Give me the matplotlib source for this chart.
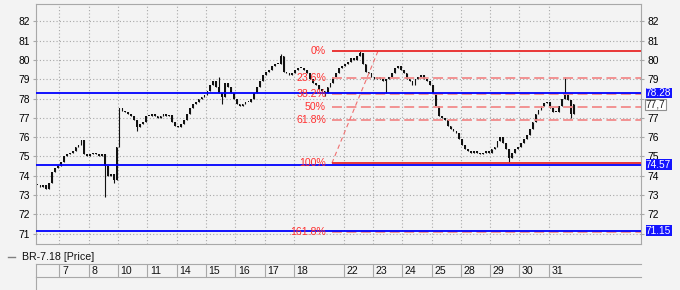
import matplotlib
matplotlib.use("Agg")
import matplotlib.pyplot as plt
import numpy as np
from matplotlib.lines import Line2D

plt.rcParams["font.family"] = ["Liberation Sans", "DejaVu Sans"]

# sessions on the time axis (first one is partial and unlabelled)
day_labels = ["", "7", "8", "10", "11", "14", "15", "16", "17", "18",
              "22", "23", "24", "25", "28", "29", "30", "31"]

# closing price of every bar, grouped by session
closes_by_day = [
    [73.5, 73.4, 73.5, 73.3, 73.6, 74.2, 74.4, 74.5],
    [74.7, 75.0, 75.1, 75.2, 75.3, 75.5, 75.6, 75.85, 75.1, 75.0],
    [75.1, 75.2, 75.1, 75.0, 75.1, 74.5, 74.0, 74.1, 73.8, 75.5],
    [77.5, 77.35, 77.3, 77.2, 77.1, 76.9, 76.5, 76.7, 76.8, 77.1],
    [77.1, 77.2, 77.1, 77.0, 77.1, 77.2, 77.1, 77.15, 76.8, 76.6],
    [76.5, 76.7, 76.9, 77.2, 77.5, 77.7, 77.8, 78.0, 78.1, 78.2],
    [78.4, 78.7, 78.9, 78.6, 78.3, 78.1, 78.8, 78.6, 78.3, 78.0],
    [77.7, 77.6, 77.7, 77.8, 77.8, 78.0, 78.3, 78.6, 78.9, 79.2],
    [79.4, 79.5, 79.7, 79.8, 79.8, 80.2, 79.4, 79.3, 79.2, 79.3],
    [79.5, 79.6, 79.6, 79.5, 79.3, 79.0, 78.8, 78.7, 78.5, 78.4, 78.3,
     78.6, 78.8, 79.1, 79.3, 79.6, 79.7],
    [79.8, 79.9, 80.1, 80.0, 80.2, 80.35, 79.8, 79.4, 79.3, 79.1],
    [79.0, 79.1, 79.0, 78.9, 79.0, 79.1, 79.3, 79.6, 79.7, 79.5],
    [79.3, 79.0, 78.9, 78.7, 79.0, 79.1, 79.2, 79.0, 78.9, 78.7],
    [78.3, 77.6, 77.1, 77.0, 76.9, 76.6, 76.4, 76.3, 76.2, 75.9],
    [75.6, 75.4, 75.3, 75.2, 75.3, 75.2, 75.1, 75.2, 75.3, 75.2],
    [75.4, 75.5, 75.8, 76.0, 75.7, 75.4, 74.9, 75.2, 75.4, 75.5],
    [75.7, 75.9, 76.1, 76.4, 76.8, 77.2, 77.4, 77.6, 77.75, 77.8],
    [77.5, 77.3, 77.3, 77.6, 78.0, 78.3, 77.9, 77.2, 77.7],
]

# long wicks (bar index -> price)
wick_high = {62: 79.1, 83: 80.3, 110: 80.45, 180: 79.1}
wick_low = {23: 72.9, 26: 73.6, 34: 76.3, 63: 77.7, 98: 78.15,
            119: 78.3, 161: 74.7, 182: 77.0}

blue_levels = [78.28, 74.57, 71.15]
last_price = "77,7"
last_value = 77.7

# fibonacci tool
fib_high, fib_low = 80.45, 74.65
fib_ratios = [0.0, 0.236, 0.382, 0.5, 0.618, 1.0, 1.618]
fib_labels = ["0%", "23.6%", "38.2%", "50%", "61.8%", "100%", "161.8%"]
fib_start_bar, fib_end_bar = 100.5, 116.2

y_ticks = list(range(71, 83))
hidden_right = [78, 71]  # covered by the level boxes

BG = "#f3f3f3"
GRID = "#a8a8a8"
W, H = 680, 290

closes = np.concatenate([np.array(d) for d in closes_by_day])
counts = [len(d) for d in closes_by_day]
bounds = np.cumsum([0] + counts[:-1]) - 0.5
x = np.arange(len(closes))
opens = np.r_[closes[0], closes[:-1]]
highs = np.maximum(opens, closes)
lows = np.minimum(opens, closes)
for i, v in wick_high.items():
    highs[i] = v
for i, v in wick_low.items():
    lows[i] = v

fig = plt.figure(figsize=(W / 100, H / 100), dpi=100, facecolor=BG)
ax = fig.add_axes([36 / W, 1 - 244 / H, 605 / W, 240 / H], facecolor=BG)

ax.vlines(x, lows, highs, color="#111111", lw=0.8, zorder=2)
ax.bar(x, np.maximum(np.abs(closes - opens), 0.05), bottom=np.minimum(opens, closes),
       width=0.6, color="#111111", lw=0, zorder=2)

for v in blue_levels:
    ax.axhline(v, color="#0000ff", lw=1.3, zorder=4)
    ax.text(1.0083, v, f"{v:.2f}", transform=ax.get_yaxis_transform(), ha="left",
            va="center", color="white", fontsize=7.3,
            bbox=dict(boxstyle="square,pad=0.03", fc="#1414ff", ec="none"), zorder=6)
ax.text(1.0083, last_value, last_price, transform=ax.get_yaxis_transform(), ha="left",
        va="center", color="#222222", fontsize=7.3,
        bbox=dict(boxstyle="square,pad=0.06", fc="white", ec="#909090", lw=0.8), zorder=6)

xmax = 206.0
span = fib_high - fib_low
for r, lab in zip(fib_ratios, fib_labels):
    lvl = fib_high - r * span
    if r in (0.0, 1.0):
        ax.hlines(lvl, fib_start_bar, xmax, color="#e82828", lw=1.3, zorder=5)
    else:
        ax.hlines(lvl, fib_start_bar, xmax, color="#f28a8a", lw=1.3,
                  linestyles=(0, (5.5, 2.5)), zorder=3)
    ax.text(fib_start_bar - 2, lvl, lab, ha="right", va="center", color="#ff3030",
            fontsize=7.6, zorder=6)
ax.plot([fib_start_bar, fib_end_bar], [fib_low, fib_high], color="#f07070", lw=0.8,
        ls=(0, (4, 3)), zorder=3)

ax.set_xlim(-0.5, xmax)
ax.set_ylim(70.46, 82.9)
ax.set_yticks(y_ticks)
ax.set_xticks(bounds[1:])
ax.grid(True, color=GRID, lw=0.8, ls=(0, (1, 2)))
ax.set_axisbelow(True)
ax.tick_params(axis="y", left=True, right=True, labelleft=True, labelright=True,
               length=2, pad=2.5, labelsize=7.4, color=GRID)
ax.tick_params(axis="x", length=0, labelbottom=False)
for val, tick in zip(y_ticks, ax.yaxis.get_major_ticks()):
    if val in hidden_right:
        tick.label2.set_visible(False)
for s in ax.spines.values():
    s.set_color(GRID)
    s.set_linewidth(0.8)

# time axis strip
axt = fig.add_axes([36 / W, 1 - 277 / H, 605 / W, 13 / H], facecolor=BG)
axt.set_xlim(-0.5, xmax)
axt.set_ylim(0, 1)
axt.set_xticks([])
axt.set_yticks([])
axt.spines["right"].set_visible(False)
for s in ("top", "bottom", "left"):
    axt.spines[s].set_color(GRID)
    axt.spines[s].set_linewidth(0.8)
for b, lab in zip(bounds[1:], day_labels[1:]):
    axt.axvline(b, color=GRID, lw=0.8)
    axt.text(b + 0.9, 0.45, lab, ha="left", va="center", fontsize=7.6, color="#111111")
fig.add_artist(Line2D([36 / W, 36 / W], [0, 13 / H], transform=fig.transFigure,
                      color=GRID, lw=0.8))

# legend
fig.add_artist(Line2D([8 / W, 15 / W], [1 - 257 / H] * 2, transform=fig.transFigure,
                      color="#808080", lw=1.0))
fig.text(22 / W, 1 - 257 / H, "BR-7.18 [Price]", ha="left", va="center",
         fontsize=7.7, color="#111111")

fig.savefig("out.png", dpi=100, facecolor=BG)
